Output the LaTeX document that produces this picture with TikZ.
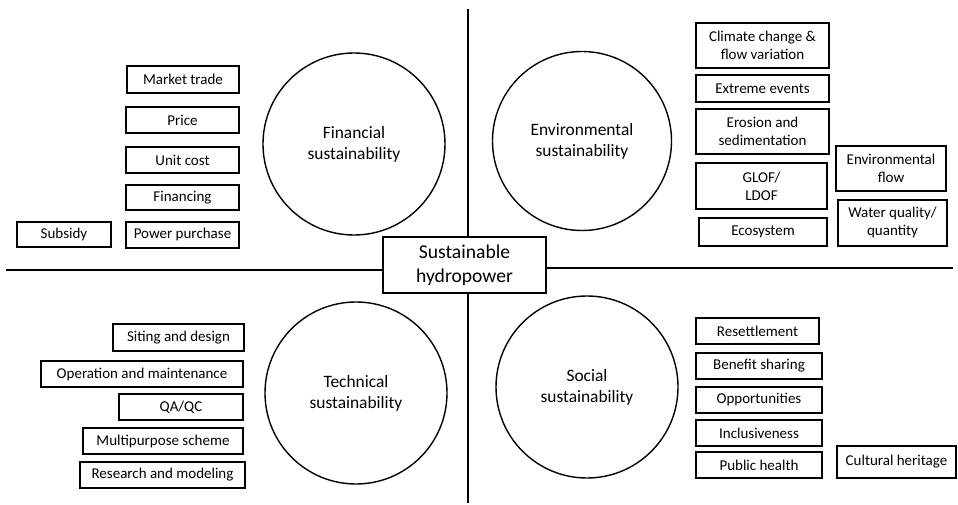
\documentclass[tikz,border=0pt]{standalone}
\usepackage{fontspec}
\setmainfont{Carlito}
\usetikzlibrary{calc}
\tikzset{
  voce/.style = {draw, rectangle, line width = 1.4pt, align = center, inner sep = 0pt, minimum height = 26pt, font = \fontsize{15}{18}\selectfont},
  pilastro/.style = {draw, circle, line width = 1.4pt, minimum size = 182pt, align = center, font = \fontsize{17.4}{21}\selectfont},
}

\begin{document}
\begin{tikzpicture}[x = 1pt, y = -1pt]
    % Parametri
    \pgfmathsetmacro{\asse}{468}
    \pgfmathsetmacro{\spessore}{1.4}
    \useasboundingbox (0,0) rectangle (958,505);
    % Centro
    \node[draw, line width = \spessore pt, minimum width = 163pt, minimum height = 56pt, inner sep = 0pt, align = center, font = \fontsize{19.6}{24}\selectfont] (hub) at (464.5,265) {Sustainable\\hydropower};
    % Assi
    \coordinate (alto) at (\asse,9);
    \coordinate (basso) at (\asse,503);
    \coordinate (sx) at (6,270);
    \coordinate (dx) at (953,268);
    \draw[line width = \spessore pt] (alto) -- (alto |- hub.north);
    \draw[line width = \spessore pt] (basso |- hub.south) -- (basso);
    \draw[line width = \spessore pt] (sx) -- (sx -| hub.west);
    \draw[line width = \spessore pt] (dx -| hub.east) -- (dx);
    % Cerchi
    \node[pilastro] (fin) at (354,144) {Financial\\sustainability};
    \node[pilastro, minimum size = 179pt] (env) at (582,141) {Environmental\\sustainability};
    \node[pilastro] (tec) at (356,393) {Technical\\sustainability};
    \node[pilastro] (soc) at (587,387) {Social\\sustainability};
    % Finanziaria
    \node[voce, minimum width = 112pt, minimum height = 27pt] (mercato) at (183,79.5) {Market trade};
    \node[voce, minimum width = 113pt] (prezzo) at (182.5,120) {Price};
    \node[voce, minimum width = 113pt] (costo) at (182.5,160) {Unit cost};
    \node[voce, minimum width = 113pt, minimum height = 25pt] (finanz) at (182.5,197.5) {Financing};
    \node[voce, minimum width = 113pt] (acquisto) at (182.5,235) {Power purchase};
    \node[voce, minimum width = 94pt, minimum height = 25pt] (sussidio) at (64,234.5) {Subsidy};
    % Ambientale
    \node[voce, minimum width = 133pt, minimum height = 45pt] (clima) at (762.5,45.5) {Climate change \&\\flow variation};
    \node[voce, minimum width = 133pt, minimum height = 27pt] (estremi) at (762.5,88.5) {Extreme events};
    \node[voce, minimum width = 133pt, minimum height = 45pt] (erosione) at (762.5,131.5) {Erosion and\\sedimentation};
    \node[voce, minimum width = 131pt, minimum height = 46pt] (glof) at (761.5,186) {GLOF/\\LDOF};
    \node[voce, minimum width = 128pt, minimum height = 28pt] (ecosis) at (763,232) {Ecosystem};
    \node[voce, minimum width = 110pt, minimum height = 45pt] (deflusso) at (891,168.5) {Environmental\\flow};
    \node[voce, minimum width = 109pt, minimum height = 46pt] (acqua) at (892.5,223) {Water quality/\\quantity};
    % Tecnica
    \node[voce, minimum width = 131pt, minimum height = 27pt] (sito) at (178.5,337.5) {Siting and design};
    \node[voce, minimum width = 202pt] (gestione) at (142,374) {Operation and maintenance};
    \node[voce, minimum width = 124pt] (qaqc) at (181,407) {QA/QC};
    \node[voce, minimum width = 160pt] (multi) at (163,441) {Multipurpose scheme};
    \node[voce, minimum width = 165pt] (ricerca) at (162.5,475) {Research and modeling};
    % Sociale
    \node[voce, minimum width = 123pt] (reinsed) at (757.5,331) {Resettlement};
    \node[voce, minimum width = 126pt] (benefici) at (759,366) {Benefit sharing};
    \node[voce, minimum width = 126pt] (opport) at (759,400) {Opportunities};
    \node[voce, minimum width = 126pt] (inclus) at (759,433) {Inclusiveness};
    \node[voce, minimum width = 126pt] (salute) at (759,465) {Public health};
    \node[voce, minimum width = 119pt, minimum height = 32pt] (eredita) at (896.5,462) {Cultural heritage};
\end{tikzpicture}
\end{document}
